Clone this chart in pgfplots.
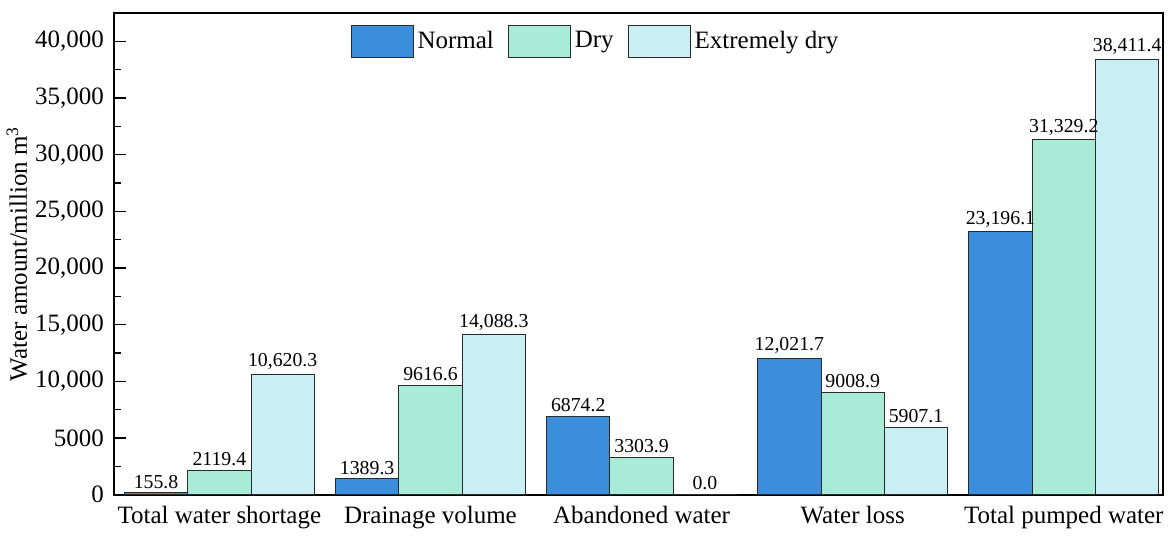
\documentclass[border=0pt]{standalone}
\usepackage{fontspec}
\setmainfont{Liberation Serif}
\usepackage{pgfplots}
\pgfplotsset{compat=1.18}
\definecolor{cnormal}{HTML}{3A8EDB}
\definecolor{cdry}{HTML}{A8EBD6}
\definecolor{cext}{HTML}{C9EEF3}
\definecolor{cedge}{HTML}{2A2A2A}
\begin{document}
\begin{tikzpicture}
\begin{axis}[
  scale only axis,
  width=525pt, height=241pt,
  ybar=0pt, bar width=0.3,
  xmin=0.5, xmax=5.47,
  ymin=0, ymax=42500,
  scaled y ticks=false,
  axis line style={line width=0.9pt},
  xtick={1,2,3,4,5},
  xticklabels={Total water shortage,Drainage volume,Abandoned water,Water loss,Total pumped water},
  x tick style={draw=none},
  xticklabel style={font=\fontsize{12.5}{13}\selectfont, yshift=-2pt},
  ytick={0,5000,10000,15000,20000,25000,30000,35000,40000},
  yticklabels={0,5000,{10,000},{15,000},{20,000},{25,000},{30,000},{35,000},{40,000}},
  yticklabel style={font=\fontsize{12.5}{13}\selectfont, xshift=-1.5pt},
  minor y tick num=1,
  ytick pos=left,
  tick align=inside,
  major tick length=6pt, minor tick length=3.5pt,
  y tick style={line width=0.7pt, black},
  ylabel={Water amount/million m\textsuperscript{3}},
  ylabel style={font=\fontsize{12.5}{13}\selectfont, yshift=-3pt},
  /pgf/number format/assume math mode=true,
  point meta=explicit symbolic,
  nodes near coords,
  nodes near coords style={font=\fontsize{9.9}{10}\selectfont, inner sep=2pt},
  every axis plot/.append style={draw=cedge, line width=0.5pt},
  legend columns=-1,
  legend style={draw=none, fill=none, at={(0.460,0.985)}, anchor=north, font=\fontsize{12.5}{13}\selectfont,
     /tikz/every even column/.append style={column sep=5pt}},
  legend image code/.code={\draw[#1, draw=cedge, line width=0.5pt] (0pt,-8pt) rectangle (31pt,8pt);},
  clip=false,
]
\addplot[fill=cnormal] coordinates {(1,155.8)[155.8] (2,1389.3)[1389.3] (3,6874.2)[6874.2] (4,12021.7)[12,021.7] (5,23196.1)[23,196.1]};
\addplot[fill=cdry] coordinates {(1,2119.4)[2119.4] (2,9616.6)[9616.6] (3,3303.9)[3303.9] (4,9008.9)[9008.9] (5,31329.2)[31,329.2]};
\addplot[fill=cext] coordinates {(1,10620.3)[10,620.3] (2,14088.3)[14,088.3] (3,0.0)[0.0] (4,5907.1)[5907.1] (5,38411.4)[38,411.4]};
\legend{Normal,Dry,Extremely dry}
\path ([xshift=-56.5pt,yshift=-16.5pt]rel axis cs:0,0) rectangle ([xshift=4pt,yshift=6.5pt]rel axis cs:1,1);
\end{axis}
\end{tikzpicture}
\end{document}
